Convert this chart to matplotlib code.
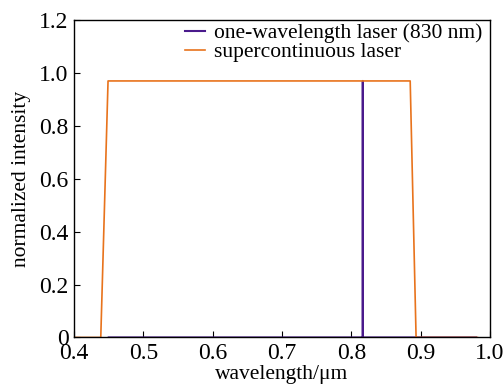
import matplotlib
matplotlib.use("Agg")
import matplotlib.pyplot as plt
from matplotlib.ticker import FuncFormatter

plt.rcParams["font.family"] = ["Liberation Serif", "DejaVu Serif"]

# one-wavelength laser
mono_x = [0.45, 0.8165, 0.8166, 0.8167, 0.98]
mono_y = [0.0, 0.0, 0.97, 0.0, 0.0]

# supercontinuous laser
sc_x = [0.40, 0.4385, 0.449, 0.885, 0.8935, 0.982]
sc_y = [0.0, 0.0, 0.97, 0.97, 0.0, 0.0]

labels = ["one-wavelength laser (830 nm)", "supercontinuous laser"]

fig, ax = plt.subplots(figsize=(5.04, 3.87), dpi=100)
ax.plot(mono_x, mono_y, color="#4a1a8c", lw=1.5, label=labels[0])
ax.plot(sc_x, sc_y, color="#e8731c", lw=1.2, label=labels[1])

ax.set_xlim(0.4, 1.0)
ax.set_ylim(0, 1.2)
ax.set_xticks([0.4, 0.5, 0.6, 0.7, 0.8, 0.9, 1.0])
ax.set_yticks([0, 0.2, 0.4, 0.6, 0.8, 1.0, 1.2])
ax.yaxis.set_major_formatter(FuncFormatter(lambda v, p: "0" if v == 0 else f"{v:.1f}"))
ax.tick_params(direction="in", labelsize=17, length=4, top=False, right=False)
ax.tick_params(axis="x", pad=4)
ax.tick_params(axis="y", pad=4)
ax.set_xlabel("wavelength/μm", fontsize=15.5, labelpad=1)
ax.set_ylabel("normalized intensity", fontsize=15.5, labelpad=6)
for s in ax.spines.values():
    s.set_linewidth(1.0)

ax.legend(loc="upper right", bbox_to_anchor=(0.983, 0.99), frameon=False,
          fontsize=15.5, handlelength=0.9, handletextpad=0.45,
          labelspacing=-0.05, borderaxespad=0.0, borderpad=0.0)

fig.subplots_adjust(left=0.147, right=0.972, top=0.948, bottom=0.128)
fig.savefig("out.png", dpi=100)
